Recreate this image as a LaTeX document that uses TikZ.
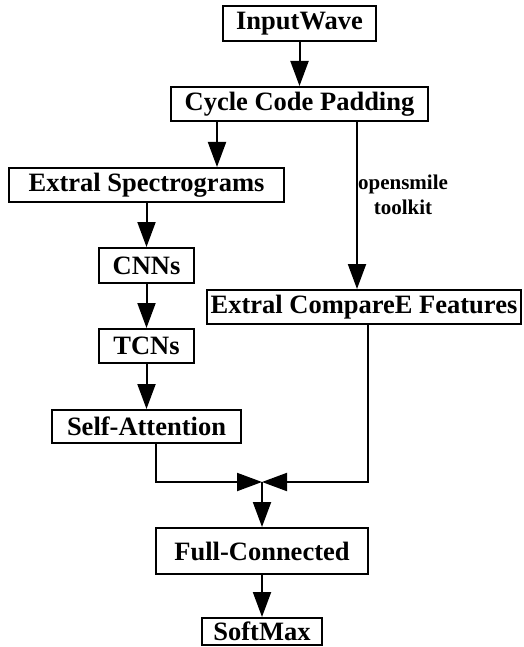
\documentclass[tikz,border=0pt]{standalone}
\usepackage{fontspec}
\setmainfont{Liberation Serif}
\usetikzlibrary{arrows.meta}
\begin{document}
\begin{tikzpicture}[x=1pt,y=-1pt,
  box/.style={draw=black,line width=2pt,inner sep=0pt,rectangle,
    font=\fontsize{26.5}{30}\selectfont\bfseries},
  arr/.style={line width=2pt,-{Triangle[length=25pt,width=18pt]}},
  ln/.style={line width=2pt}]
\useasboundingbox (0,0) rectangle (523,647);
\node[box,minimum width=153pt,minimum height=35pt] (iw) at (299.5,23.5) {InputWave};
\node[box,minimum width=257pt,minimum height=34pt] (ccp) at (299.5,104) {Cycle Code Padding};
\node[box,minimum width=275pt,minimum height=34pt] (es) at (146.5,185) {Extral Spectrograms};
\node[box,minimum width=95pt,minimum height=35pt] (cnn) at (146.5,265.5) {CNNs};
\node[box,minimum width=95pt,minimum height=34pt] (tcn) at (146.5,346) {TCNs};
\node[box,minimum width=189pt,minimum height=33pt] (sa) at (146.5,426.5) {Self-Attention};
\node[box,minimum width=314pt,minimum height=34pt] (cmp) at (364,307) {Extral CompareE Features};
\node[box,minimum width=212pt,minimum height=46pt] (fc) at (262,551) {Full-Connected};
\node[box,minimum width=120pt,minimum height=27pt] (sm) at (262,631.5) {SoftMax};
\node[font=\fontsize{21}{25}\selectfont\bfseries,align=center,inner sep=0pt] (lbl) at (403,195) {opensmile\\toolkit};
\coordinate (j) at (262,482);
\draw[arr] (iw.south) -- (ccp.north);
\draw[arr] (ccp.south -| 217,0) -- (es.north -| 217,0);
\draw[arr] (ccp.south -| 357,0) -- (cmp.north -| 357,0);
\draw[arr] (es.south) -- (cnn.north);
\draw[arr] (cnn.south) -- (tcn.north);
\draw[arr] (tcn.south) -- (sa.north);
\draw[arr] (sa.south -| 156,0) |- (j);
\draw[arr] (cmp.south -| 368,0) |- (j);
\draw[arr] (j) -- (fc.north);
\draw[arr] (fc.south) -- (sm.north);
\end{tikzpicture}
\end{document}
